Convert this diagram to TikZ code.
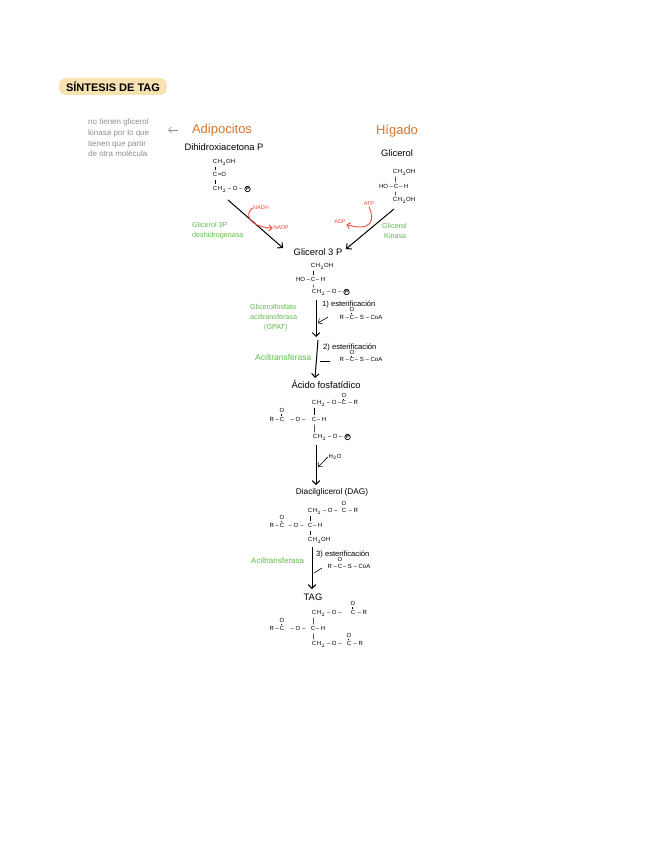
\documentclass[tikz,border=0pt]{standalone}
\usepackage{fontspec}
\setmainfont{Liberation Sans}
\usetikzlibrary{arrows.meta, positioning}
\definecolor{pill}{HTML}{F7E2B2}
\definecolor{naranja}{HTML}{D9752B}
\definecolor{verde}{HTML}{5DBB4A}
\definecolor{rojo}{HTML}{EE4B3A}
\definecolor{gris}{HTML}{8E8E8E}

\begin{document}
\begin{tikzpicture}[x=1pt, y=-1pt,
    titulo/.style={fill=pill, rounded corners=7pt, font=\fontsize{11}{12}\selectfont\bfseries, minimum width=108pt, minimum height=17pt, inner sep=0pt},
    nota/.style={font=\fontsize{8}{10.6}\selectfont, text=gris, align=left, inner sep=0pt, anchor=north west},
    tejido/.style={font=\fontsize{13}{15}\selectfont, text=naranja, inner sep=0pt},
    mol/.style={font=\fontsize{9.4}{11}\selectfont, inner sep=0pt},
    atom/.style={font=\fontsize{6}{7}\selectfont, inner xsep=0.2pt, inner ysep=1pt, text height=4.2pt, text depth=0.5pt},
    fos/.style={circle, draw, line width=0.7pt, inner sep=0.4pt, font=\fontsize{4.5}{5}\selectfont\bfseries},
    enz/.style={font=\fontsize{7.2}{10}\selectfont, text=verde, align=left, inner sep=0pt, anchor=west},
    enzb/.style={font=\fontsize{8.5}{10}\selectfont, text=verde, inner sep=0pt, anchor=west},
    cof/.style={font=\fontsize{5.5}{6}\selectfont, text=rojo, inner sep=0.5pt},
    paso/.style={font=\fontsize{7.6}{9}\selectfont, inner sep=0pt, anchor=west},
    e/.style={-{Straight Barb[length=1.3mm]}, line width=1pt},
    es/.style={-{Straight Barb[length=1.1mm]}, line width=0.6pt},
    er/.style={-{Straight Barb[length=1.1mm]}, line width=0.9pt, draw=rojo},
    bond/.style={line width=0.5pt, shorten >=1pt, shorten <=1pt},
    dbl/.style={double, double distance=0.8pt, line width=0.35pt},
]
    \useasboundingbox (0,0) rectangle (648,848);
    \node[titulo] (title) at (113,86.5) {SÍNTESIS DE TAG};
    % columna izquierda
    \node[nota] (nota) at (88,119) {no tienen glicerol\\kinasa por lo que\\tienen que partir\\de otra molécula};
    \node[tejido] (adipo) at (222,130) {Adipocitos};
    \node[mol] (dhap) at (224,147) {Dihidroxiacetona P};
    \coordinate (fl) at (178,130);
    \coordinate (fl2) at (168,130);
    \draw[es, draw=gris] (fl) to (fl2);
    \node[atom] (d1) at (215,162) {C};
    \node[atom, base right=0pt of d1] (d1r) {H$_2$OH};
    \node[atom] (d2) at (215,175) {C};
    \node[atom, base right=0pt of d2] (d2r) {=O};
    \node[atom] (d3) at (215,189) {C};
    \node[atom, base right=0pt of d3] (d3r) {H$_2$ – O –};
    \node[fos, right=1.5pt of d3r] (d3p) {P};
    \draw[bond] (d1) to (d2);
    \draw[bond] (d2) to (d3);
    % columna derecha
    \node[tejido] (higado) at (397,131) {Hígado};
    \node[mol] (glic) at (397,153) {Glicerol};
    \node[atom] (h1) at (395,172) {C};
    \node[atom, base right=0pt of h1] (h1r) {H$_2$OH};
    \node[atom] (h2) at (396,187) {C};
    \node[atom, base left=0pt of h2] (h2l) {HO –};
    \node[atom, base right=0pt of h2] (h2r) {– H};
    \node[atom] (h3) at (395,200) {C};
    \node[atom, base right=0pt of h3] (h3r) {H$_2$OH};
    \draw[bond] (h1) to (h2);
    \draw[bond] (h2) to (h3);
    % glicerol 3P
    \node[mol] (g3p) at (318,252) {Glicerol 3 P};
    \node[atom] (g1) at (313,266) {C};
    \node[atom, base right=0pt of g1] (g1r) {H$_2$OH};
    \node[atom] (g2) at (313,280) {C};
    \node[atom, base left=0pt of g2] (g2l) {HO –};
    \node[atom, base right=0pt of g2] (g2r) {– H};
    \node[atom] (g3) at (314,292) {C};
    \node[atom, base right=0pt of g3] (g3r) {H$_2$ – O –};
    \node[fos, right=1.5pt of g3r] (g3f) {P};
    \draw[bond] (g1) to (g2);
    \draw[bond] (g2) to (g3);
    \coordinate (da) at (228,200);
    \coordinate (db) at (283,248);
    \coordinate (ha) at (394,209);
    \coordinate (hb) at (346,249);
    \draw[e] (da) to (db);
    \draw[e] (ha) to (hb);
    % cofactores
    \node[cof] (nadh) at (261,208) {NADH};
    \node[cof] (nadp) at (281,228) {NADP};
    \node[cof] (atp) at (369,204) {ATP};
    \node[cof] (adp) at (340,222) {ADP};
    \draw[er] (nadh.west) .. controls (244,214) and (249,227) .. (nadp.west);
    \draw[er] (atp.south) .. controls (375,220) and (372,232) .. (adp.south east);
    \node[enz] (gdh) at (192,231) {Glicerol 3P\\deshidrogenasa};
    \node[enz] (gk) at (382,231) {Glicerol\\\ Kinasa};
    % esterificaciones
    \node[paso] (p1) at (322,304) {1) esterificación};
    \node[atom] (c1) at (352,318) {C};
    \node[atom, base left=0pt of c1] (c1l) {R~–~};
    \node[atom, base right=0pt of c1] (c1r) {– S – CoA};
    \node[atom, above=1.5pt of c1] (o1) {O};
    \draw[dbl] (c1) to (o1);
    \node[enz] (gpat) at (250,318) {Glicerolfosfato\\aciltransferasa\\\ \ \ \ \ \ \ (GPAT)};
    \node[paso] (p2) at (323,347) {2) esterificación};
    \node[atom] (c2) at (352,360) {C};
    \node[atom, base left=0pt of c2] (c2l) {R~–~};
    \node[atom, base right=0pt of c2] (c2r) {– S – CoA};
    \node[atom, above=0.5pt of c2] (o2) {O};
    \draw[dbl] (c2) to (o2);
    \node[enzb] (acil1) at (255,357) {Aciltransferasa};
    \node[mol] (afos) at (326,384) {Ácido fosfatídico};
    \coordinate (m0) at (316,300);
    \coordinate (m1) at (316,337);
    \coordinate (m2) at (318,340);
    \coordinate (m2b) at (315,378);
    \draw[e] (m0) to (m1);
    \draw[e] (m2) to (m2b);
    \coordinate (s1a) at (328,317);
    \coordinate (s1) at (318,323);
    \coordinate (s2a) at (330,361);
    \coordinate (s2) at (320,361);
    \draw[es] (s1a) to (s1);
    \draw[line width=0.6pt] (s2a) to (s2);
    % acido fosfatidico
    \node[atom] (a1) at (314,403) {C};
    \node[atom, base right=0pt of a1] (a1r) {H$_2$ – O –};
    \node[atom] (ac) at (344,403) {C};
    \node[atom, base right=0pt of ac] (acr) {~– R};
    \node[atom, above=0.5pt of ac] (ao) {O};
    \draw[dbl] (ac) to (ao);
    \node[atom] (a2) at (314,420) {C};
    \node[atom, base right=0pt of a2] (a2r) {– H};
    \node[atom] (a2l) at (298,420) {– O –};
    \node[atom] (acl) at (282,420) {C};
    \node[atom, base left=0pt of acl] (acll) {R~–~};
    \node[atom, above=2pt of acl] (aol) {O};
    \draw[dbl] (acl) to (aol);
    \node[atom] (a3) at (315,437) {C};
    \node[atom, base right=0pt of a3] (a3r) {H$_2$ – O –};
    \node[fos, right=1.5pt of a3r] (a3f) {P};
    \draw[bond] (a1) to (a2);
    \draw[bond] (a2) to (a3);
    \node[cof, text=black, font=\fontsize{6}{7}\selectfont] (h2o) at (335,457) {H$_2$O};
    \node[mol, font=\fontsize{8.3}{9}\selectfont] (dag) at (332,492) {Diacilglicerol (DAG)};
    \coordinate (m3) at (316,445);
    \coordinate (m3b) at (316,485);
    \coordinate (s3) at (318,467);
    \draw[e] (m3) to (m3b);
    \draw[es] (h2o.west) to (s3);
    % diacilglicerol
    \node[atom] (b1) at (310,511) {C};
    \node[atom, base right=0pt of b1] (b1r) {H$_2$ – O –};
    \node[atom] (bc) at (344,511) {C};
    \node[atom, base right=0pt of bc] (bcr) {~– R};
    \node[atom, above=0pt of bc] (bo) {O};
    \draw[dbl] (bc) to (bo);
    \node[atom] (b2) at (310,526) {C};
    \node[atom, base right=0pt of b2] (b2r) {– H};
    \node[atom] (b2l) at (296,526) {– O –};
    \node[atom] (bcl) at (282,526) {C};
    \node[atom, base left=0pt of bcl] (bcll) {R~–~};
    \node[atom, above=1pt of bcl] (bol) {O};
    \draw[dbl] (bcl) to (bol);
    \node[atom] (b3) at (310,540) {C};
    \node[atom, base right=0pt of b3] (b3r) {H$_2$OH};
    \draw[bond] (b1) to (b2);
    \draw[bond] (b2) to (b3);
    % tercera esterificacion
    \node[paso] (p3) at (316,554) {3) esterificación};
    \node[atom] (c3) at (340,567) {C};
    \node[atom, base left=0pt of c3] (c3l) {R~–~};
    \node[atom, base right=0pt of c3] (c3r) {– S – CoA};
    \node[atom, above=0pt of c3] (o3) {O};
    \draw[dbl] (c3) to (o3);
    \node[enz, font=\fontsize{8}{9}\selectfont] (acil2) at (251,561) {Aciltransferasa};
    \node[mol] (tag) at (313,597) {TAG};
    \coordinate (m4) at (312,547);
    \coordinate (m4b) at (312,589);
    \coordinate (s4a) at (322,568);
    \coordinate (s4) at (314,573);
    \draw[e] (m4) to (m4b);
    \draw[line width=0.6pt] (s4a) to (s4);
    % TAG
    \node[atom] (t1) at (314,613) {C};
    \node[atom, base right=0pt of t1] (t1r) {H$_2$~–~O~–};
    \node[atom] (tc1) at (353,613) {C};
    \node[atom, base right=0pt of tc1] (tc1r) {~– R};
    \node[atom, above=2pt of tc1] (to1) {O};
    \draw[dbl] (tc1) to (to1);
    \node[atom] (t2) at (313,629) {C};
    \node[atom, base right=0pt of t2] (t2r) {– H};
    \node[atom] (t2l) at (298,629) {– O –};
    \node[atom] (tc2) at (282,629) {C};
    \node[atom, base left=0pt of tc2] (tc2l) {R~–~};
    \node[atom, above=1pt of tc2] (to2) {O};
    \draw[dbl] (tc2) to (to2);
    \node[atom] (t3) at (314,644) {C};
    \node[atom, base right=0pt of t3] (t3r) {H$_2$~–~O~–};
    \node[atom] (tc3) at (349,644) {C};
    \node[atom, base right=0pt of tc3] (tc3r) {~– R};
    \node[atom, above=1pt of tc3] (to3) {O};
    \draw[dbl] (tc3) to (to3);
    \draw[bond] (t1) to (t2);
    \draw[bond] (t2) to (t3);
\end{tikzpicture}
\end{document}
